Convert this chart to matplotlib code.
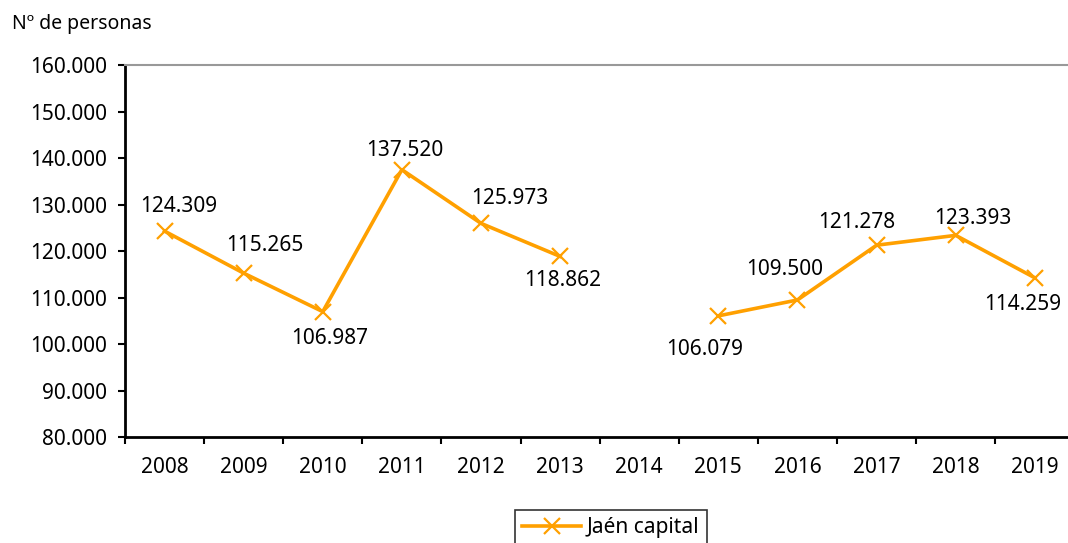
import matplotlib.pyplot as plt
import numpy as np

plt.rcParams['font.family'] = ['Noto Sans', 'DejaVu Sans']

years = ['2008', '2009', '2010', '2011', '2012', '2013', '2014',
         '2015', '2016', '2017', '2018', '2019']
personas = [124309, 115265, 106987, 137520, 125973, 118862, np.nan,
            106079, 109500, 121278, 123393, 114259]
labels = ['124.309', '115.265', '106.987', '137.520', '125.973', '118.862', '',
          '106.079', '109.500', '121.278', '123.393', '114.259']
# label offsets in points (dx, dy)
offsets = [(10, 18), (15, 20), (5, -19), (2, 14), (21, 18), (2, -17), (0, 0),
           (-10, -24), (-9, 22), (-14, 16), (12, 12), (-9, -19)]

color = '#FFA000'

fig = plt.figure(figsize=(10.68, 5.43), dpi=100)
ax = fig.add_axes([0.117, 0.195, 0.889, 0.685])

x = np.arange(len(years))
ax.plot(x, personas, color=color, lw=2.6, marker='x', markersize=11,
        markeredgewidth=1.6, label='Jaén capital')

for xi, v, t, (dx, dy) in zip(x, personas, labels, offsets):
    if t:
        ax.annotate(t, (xi, v), xytext=(dx, dy), textcoords='offset points',
                    ha='center', va='center', fontsize=15)

ax.set_xlim(-0.5, len(years) - 0.5)
ax.set_ylim(80000, 160000)
ax.set_yticks(np.arange(80000, 160001, 10000))
ax.set_yticklabels([f'{v // 1000}.000' for v in range(80000, 160001, 10000)])
ax.set_xticks(x)
ax.set_xticklabels(years)
ax.set_xticks(np.arange(-0.5, len(years)), minor=True)
ax.tick_params(axis='x', which='major', length=0, pad=14, labelsize=15)
ax.tick_params(axis='x', which='minor', length=5, width=1.5)
ax.tick_params(axis='y', length=5, width=1.5, labelsize=15, pad=8)

ax.spines['right'].set_visible(False)
ax.spines['top'].set_color('#999999')
ax.spines['top'].set_linewidth(1.5)
ax.spines['left'].set_linewidth(2)
ax.spines['bottom'].set_linewidth(2)

fig.text(0.011, 0.955, 'Nº de personas', fontsize=14, ha='left', va='center')

leg = ax.legend(loc='upper center', bbox_to_anchor=(0.512, -0.196), fontsize=15,
                frameon=True, fancybox=False, edgecolor='black',
                handlelength=2.8, handletextpad=0.3, borderpad=0.35,
                borderaxespad=0)
leg.get_frame().set_linewidth(1.2)

fig.savefig('out.png', dpi=100)
